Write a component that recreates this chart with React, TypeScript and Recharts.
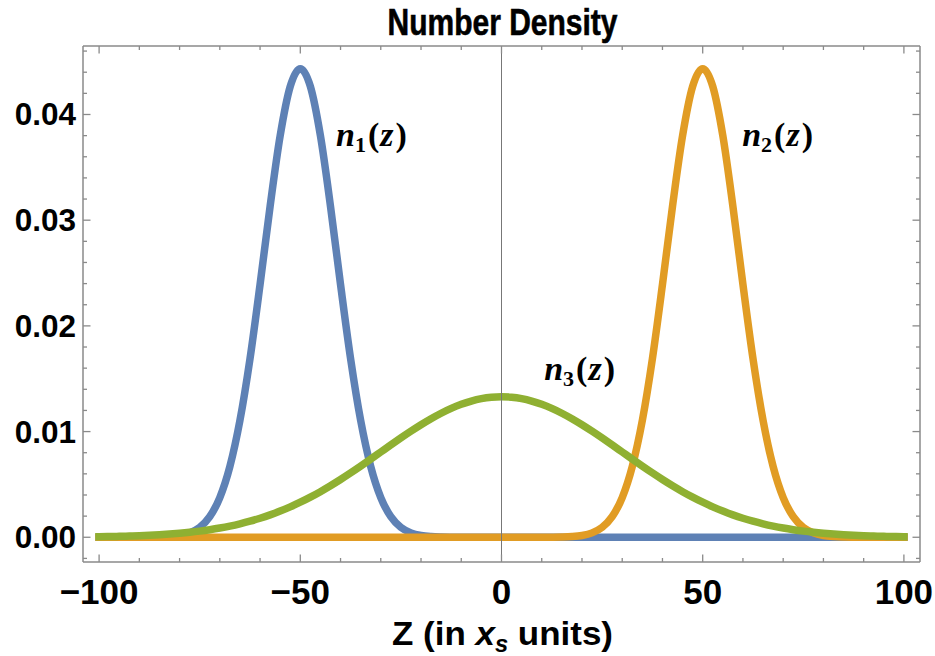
import React from 'react';
import { LineChart, Line, XAxis, YAxis, ReferenceLine, ReferenceDot } from 'recharts';

const zValues = [
  -100, -97.5, -95, -92.5, -90, -87.5, -85, -82.5, -80, -77.5,
  -75, -72.5, -70, -67.5, -65, -62.5, -60, -57.5, -55, -52.5,
  -50, -47.5, -45, -42.5, -40, -37.5, -35, -32.5, -30, -27.5,
  -25, -22.5, -20, -17.5, -15, -12.5, -10, -7.5, -5, -2.5,
  0, 2.5, 5, 7.5, 10, 12.5, 15, 17.5, 20, 22.5,
  25, 27.5, 30, 32.5, 35, 37.5, 40, 42.5, 45, 47.5,
  50, 52.5, 55, 57.5, 60, 62.5, 65, 67.5, 70, 72.5,
  75, 77.5, 80, 82.5, 85, 87.5, 90, 92.5, 95, 97.5, 100,
];

const n1Values = [
  0, 0, 0, 0, 0.000002, 0.0000075, 0.000023, 0.0000653, 0.000171, 0.000416,
  0.000936, 0.001948, 0.003753, 0.006694, 0.011054, 0.016897, 0.023912, 0.031327, 0.037991, 0.042653,
  0.04433, 0.042653, 0.037991, 0.031327, 0.023912, 0.016897, 0.011054, 0.006694, 0.003753, 0.001948,
  0.000936, 0.000416, 0.000171, 0.0000653, 0.000023, 0.0000075, 0.000002, 0, 0, 0,
  0, 0, 0, 0, 0, 0, 0, 0, 0, 0,
  0, 0, 0, 0, 0, 0, 0, 0, 0, 0,
  0, 0, 0, 0, 0, 0, 0, 0, 0, 0,
  0, 0, 0, 0, 0, 0, 0, 0, 0, 0, 0,
];

const n2Values = [
  0, 0, 0, 0, 0, 0, 0, 0, 0, 0,
  0, 0, 0, 0, 0, 0, 0, 0, 0, 0,
  0, 0, 0, 0, 0, 0, 0, 0, 0, 0,
  0, 0, 0, 0, 0, 0, 0, 0, 0, 0,
  0, 0, 0, 0, 0.000002, 0.0000075, 0.000023, 0.0000653, 0.000171, 0.000416,
  0.000936, 0.001948, 0.003753, 0.006694, 0.011054, 0.016897, 0.023912, 0.031327, 0.037991, 0.042653,
  0.04433, 0.042653, 0.037991, 0.031327, 0.023912, 0.016897, 0.011054, 0.006694, 0.003753, 0.001948,
  0.000936, 0.000416, 0.000171, 0.0000653, 0.000023, 0.0000075, 0.000002, 0, 0, 0, 0,
];

const n3Values = [
  0.0000514, 0.0000676, 0.0000884, 0.000115, 0.000148, 0.000189, 0.00024, 0.000303, 0.00038, 0.000473,
  0.000584, 0.000717, 0.000874, 0.001058, 0.001272, 0.001518, 0.0018, 0.002119, 0.002477, 0.002876,
  0.003316, 0.003797, 0.004317, 0.004875, 0.005467, 0.006088, 0.006733, 0.007395, 0.008066, 0.008736,
  0.009397, 0.010038, 0.010648, 0.011217, 0.011735, 0.012192, 0.012579, 0.012889, 0.013115, 0.013252,
  0.013298, 0.013252, 0.013115, 0.012889, 0.012579, 0.012192, 0.011735, 0.011217, 0.010648, 0.010038,
  0.009397, 0.008736, 0.008066, 0.007395, 0.006733, 0.006088, 0.005467, 0.004875, 0.004317, 0.003797,
  0.003316, 0.002876, 0.002477, 0.002119, 0.0018, 0.001518, 0.001272, 0.001058, 0.000874, 0.000717,
  0.000584, 0.000473, 0.00038, 0.000303, 0.00024, 0.000189, 0.000148, 0.000115, 0.0000884, 0.0000676, 0.0000514,
];

const xMajorTicks = [-100, -50, 0, 50, 100];
const xAllTicks = [-100, -90, -80, -70, -60, -50, -40, -30, -20, -10, 0, 10, 20, 30, 40, 50, 60, 70, 80, 90, 100];
const yMajorTicks = [0, 0.01, 0.02, 0.03, 0.04];
const yAllTicks = [
  -0.002, 0, 0.002, 0.004, 0.006, 0.008, 0.01, 0.012, 0.014, 0.016, 0.018, 0.02, 0.022, 0.024,
  0.026, 0.028, 0.03, 0.032, 0.034, 0.036, 0.038, 0.04, 0.042, 0.044, 0.046,
];

const curveLabels = [
  { sub: '1', z: -32.3, v: 0.03702 },
  { sub: '2', z: 68.6, v: 0.03702 },
  { sub: '3', z: 19.4, v: 0.01488 },
];

const chartTitle = 'Number Density';

const data = zValues.map((z, i) => ({ z, n1: n1Values[i], n2: n2Values[i], n3: n3Values[i] }));

const FRAME = '#8a8a8a';
const SANS = '"Liberation Sans", Arial, sans-serif';
const SERIF = '"Liberation Serif", "Times New Roman", serif';
const MAJOR = 7.5;
const MINOR = 4;

const fmtX = (v: number) => (v < 0 ? '\u2212' + Math.abs(v) : String(v));

function BottomTick(props: any) {
  const { x, y, payload } = props;
  const v = payload.value;
  const major = xMajorTicks.includes(v);
  return (
    <g>
      <line x1={x} x2={x} y1={y} y2={y - (major ? MAJOR : MINOR)} stroke={FRAME} strokeWidth={1.3} />
      {major && (
        <text x={x} y={y + 42} textAnchor="middle" fontFamily={SANS} fontWeight="bold" fontSize={35} fill="#000">
          {fmtX(v)}
        </text>
      )}
    </g>
  );
}

function TopTick(props: any) {
  const { x, y, payload } = props;
  const major = xMajorTicks.includes(payload.value);
  return <line x1={x} x2={x} y1={y} y2={y + (major ? MAJOR : MINOR)} stroke={FRAME} strokeWidth={1.3} />;
}

function LeftTick(props: any) {
  const { x, y, payload } = props;
  const v = payload.value;
  const major = yMajorTicks.includes(v);
  return (
    <g>
      <line x1={x} x2={x + (major ? MAJOR : MINOR)} y1={y} y2={y} stroke={FRAME} strokeWidth={1.3} />
      {major && (
        <text x={x - 7} y={y + 11} textAnchor="end" fontFamily={SANS} fontWeight="bold" fontSize={31.5} fill="#000">
          {v.toFixed(2)}
        </text>
      )}
    </g>
  );
}

function RightTick(props: any) {
  const { x, y, payload } = props;
  const major = yMajorTicks.includes(payload.value);
  return <line x1={x} x2={x - (major ? MAJOR : MINOR)} y1={y} y2={y} stroke={FRAME} strokeWidth={1.3} />;
}

function AxisTitles(props: any) {
  const vb = props.viewBox || { x: 83, y: 562, width: 837, height: 60 };
  const cx = vb.x + vb.width / 2 + 1;
  return (
    <g>
      <text
        x={cx}
        y={vb.y + 83}
        textAnchor="middle"
        fontFamily={SANS}
        fontWeight="bold"
        fontSize={34}
        fill="#000"
        textLength={221}
        lengthAdjust="spacingAndGlyphs"
      >
        {'Z (in '}
        <tspan fontStyle="italic">x</tspan>
        <tspan fontStyle="italic" fontSize={23} dy={7}>s</tspan>
        <tspan dy={-7}>{' units)'}</tspan>
      </text>
      <text
        x={cx}
        y={35}
        textAnchor="middle"
        fontFamily={SANS}
        fontWeight="bold"
        fontSize={37}
        fill="#000"
        stroke="#000"
        strokeWidth={0.6}
        textLength={230}
        lengthAdjust="spacingAndGlyphs"
      >
        {chartTitle}
      </text>
    </g>
  );
}

function CurveLabel(props: any) {
  const { cx, cy, sub } = props;
  return (
    <text x={cx} y={cy} textAnchor="middle" fontFamily={SERIF} fontWeight="bold" fontSize={34} fill="#000">
      <tspan fontStyle="italic">n</tspan>
      <tspan fontSize={22} dy={6}>{sub}</tspan>
      <tspan dy={-6} dx={2}>(</tspan>
      <tspan fontStyle="italic" dx={1}>z</tspan>
      <tspan dx={2}>)</tspan>
    </text>
  );
}

export default function App() {
  return (
    <div style={{ position: 'absolute', left: 0, top: 0, background: '#fff' }}>
      <LineChart width={935} height={656} data={data} margin={{ top: 45, right: 14, bottom: 34, left: 23 }}>
        <XAxis
          xAxisId="bottom"
          dataKey="z"
          type="number"
          domain={[-104, 104]}
          allowDataOverflow
          ticks={xAllTicks}
          interval={0}
          tickSize={0}
          tickMargin={0}
          tickLine={false}
          height={60}
          axisLine={{ stroke: FRAME, strokeWidth: 1.5 }}
          tick={<BottomTick />}
          label={{ content: (p: any) => <AxisTitles {...p} /> }}
        />
        <XAxis
          xAxisId="top"
          orientation="top"
          dataKey="z"
          type="number"
          domain={[-104, 104]}
          allowDataOverflow
          ticks={xAllTicks}
          interval={0}
          tickSize={0}
          tickMargin={0}
          tickLine={false}
          height={1}
          axisLine={{ stroke: FRAME, strokeWidth: 1.5 }}
          tick={<TopTick />}
        />
        <YAxis
          yAxisId="left"
          type="number"
          domain={[-0.00234, 0.04648]}
          allowDataOverflow
          ticks={yAllTicks}
          interval={0}
          tickSize={0}
          tickMargin={0}
          tickLine={false}
          width={60}
          axisLine={{ stroke: FRAME, strokeWidth: 1.5 }}
          tick={<LeftTick />}
        />
        <YAxis
          yAxisId="right"
          orientation="right"
          type="number"
          domain={[-0.00234, 0.04648]}
          allowDataOverflow
          ticks={yAllTicks}
          interval={0}
          tickSize={0}
          tickMargin={0}
          tickLine={false}
          width={1}
          axisLine={{ stroke: FRAME, strokeWidth: 1.5 }}
          tick={<RightTick />}
        />
        <Line xAxisId="bottom" yAxisId="left" type="monotone" dataKey="n1" stroke="#5E81B5" strokeWidth={7.5}
          dot={false} activeDot={false} isAnimationActive={false} strokeLinecap="square" strokeLinejoin="round" />
        <Line xAxisId="bottom" yAxisId="left" type="monotone" dataKey="n2" stroke="#E19C24" strokeWidth={7.5}
          dot={false} activeDot={false} isAnimationActive={false} strokeLinecap="square" strokeLinejoin="round" />
        <Line xAxisId="top" yAxisId="right" type="monotone" dataKey="n3" stroke="#8FB032" strokeWidth={7.5}
          dot={false} activeDot={false} isAnimationActive={false} strokeLinecap="square" strokeLinejoin="round" />
        <ReferenceLine xAxisId="bottom" yAxisId="left" x={0} stroke="#777" strokeWidth={1} />
        {curveLabels.map((l) => (
          <ReferenceDot
            key={l.sub}
            xAxisId="bottom"
            yAxisId="left"
            x={l.z}
            y={l.v}
            r={0}
            shape={(p: any) => <CurveLabel cx={p.cx} cy={p.cy} sub={l.sub} />}
          />
        ))}
      </LineChart>
    </div>
  );
}
